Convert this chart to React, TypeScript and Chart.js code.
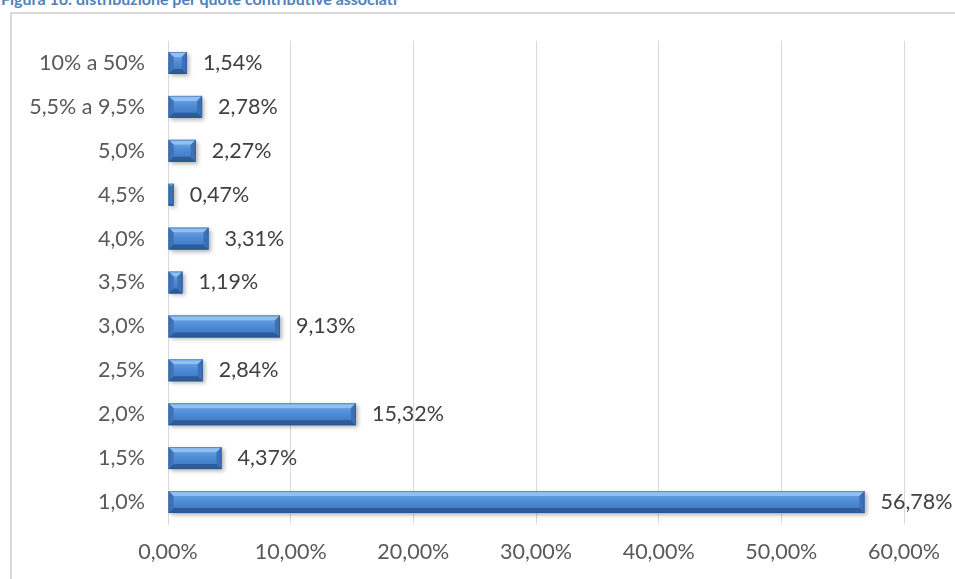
import React, { useEffect, useRef } from "react";
import { Chart, registerables } from "chart.js";

Chart.register(...registerables);

const TITLE = "Figura 16: distribuzione per quote contributive associati";
const categories = ["10% a 50%", "5,5% a 9,5%", "5,0%", "4,5%", "4,0%", "3,5%", "3,0%", "2,5%", "2,0%", "1,5%", "1,0%"];
const values = [1.54, 2.78, 2.27, 0.47, 3.31, 1.19, 9.13, 2.84, 15.32, 4.37, 56.78];
const xMin = 0;
const xMax = 60;
const xStep = 10;

const FONT = "Lato, 'Open Sans', sans-serif";
const FSIZE = 21.5;
const fmt = (v: number) => v.toFixed(2).replace(".", ",") + "%";

const bevelPlugin = {
  id: "bevelBars",
  afterDatasetsDraw(chart: any) {
    const ctx = chart.ctx as CanvasRenderingContext2D;
    const meta = chart.getDatasetMeta(0);
    meta.data.forEach((el: any, i: number) => {
      const p = el.getProps(["x", "y", "base", "height"], true);
      const x0 = Math.min(p.base, p.x);
      const x1 = Math.max(p.base, p.x);
      const y0 = p.y - p.height / 2;
      const y1 = p.y + p.height / 2;
      const w = x1 - x0;
      const h = y1 - y0;
      const b = Math.min(5, w / 2, h / 2);
      ctx.save();
      ctx.shadowColor = "rgba(0,0,0,0.3)";
      ctx.shadowBlur = 4;
      ctx.shadowOffsetX = 2;
      ctx.shadowOffsetY = 2;
      ctx.fillStyle = "#4279c2";
      ctx.fillRect(x0, y0, w, h);
      ctx.shadowColor = "transparent";
      const g = ctx.createLinearGradient(0, y0, 0, y1);
      g.addColorStop(0, "#73aaea");
      g.addColorStop(0.5, "#4d8ad6");
      g.addColorStop(1, "#3c73bd");
      ctx.fillStyle = g;
      ctx.fillRect(x0 + b, y0 + b, w - 2 * b, h - 2 * b);
      const poly = (pts: number[][], c: string) => {
        ctx.beginPath();
        ctx.moveTo(pts[0][0], pts[0][1]);
        for (let k = 1; k < pts.length; k++) ctx.lineTo(pts[k][0], pts[k][1]);
        ctx.closePath();
        ctx.fillStyle = c;
        ctx.fill();
      };
      poly([[x0, y0], [x1, y0], [x1 - b, y0 + b], [x0 + b, y0 + b]], "#8fc0f3");
      poly([[x0, y1], [x1, y1], [x1 - b, y1 - b], [x0 + b, y1 - b]], "#2d5c99");
      poly([[x0, y0], [x0 + b, y0 + b], [x0 + b, y1 - b], [x0, y1]], "#3f73b8");
      poly([[x1, y0], [x1 - b, y0 + b], [x1 - b, y1 - b], [x1, y1]], "#3d70b5");
      ctx.strokeStyle = "rgba(35,75,135,0.45)";
      ctx.lineWidth = 1;
      ctx.strokeRect(x0 + 0.5, y0 + 0.5, w - 1, h - 1);
      ctx.fillStyle = "#404040";
      ctx.font = `${FSIZE}px ${FONT}`;
      ctx.textAlign = "left";
      ctx.textBaseline = "middle";
      ctx.fillText(fmt(values[i]), x1 + 16, p.y);
      ctx.restore();
    });
  },
};

export default function App() {
  const ref = useRef<HTMLCanvasElement>(null);
  useEffect(() => {
    if (!ref.current) return;
    const chart = new Chart(ref.current, {
      type: "bar",
      data: {
        labels: categories,
        datasets: [
          {
            data: values,
            backgroundColor: "rgba(0,0,0,0)",
            borderWidth: 0,
            barPercentage: 0.5,
            categoryPercentage: 1,
          },
        ],
      },
      options: {
        indexAxis: "y",
        animation: false,
        responsive: false,
        devicePixelRatio: 1,
        layout: { padding: { left: 10, right: 50, top: 41, bottom: 0 } },
        plugins: { legend: { display: false }, tooltip: { enabled: false }, title: { display: false } },
        scales: {
          x: {
            min: xMin,
            max: xMax,
            ticks: {
              stepSize: xStep,
              padding: 15,
              color: "#595959",
              font: { family: FONT, size: FSIZE },
              callback: (v: any) => fmt(Number(v)),
            },
            grid: { color: "#d9d9d9", drawTicks: false, lineWidth: 1 },
            border: { display: false },
            afterFit: (s: any) => {
              s.height = 55;
            },
          },
          y: {
            ticks: {
              padding: 23,
              color: "#595959",
              font: { family: FONT, size: FSIZE },
            },
            grid: { display: false, drawTicks: false },
            border: { display: true, color: "#d9d9d9", width: 1 },
            afterFit: (s: any) => {
              s.width = 158;
            },
          },
        },
      } as any,
      plugins: [bevelPlugin],
    });
    return () => chart.destroy();
  }, []);

  return (
    <div style={{ position: "absolute", left: 0, top: 0, width: 955, height: 579, overflow: "hidden", background: "#fff" }}>
      <div
        style={{
          position: "absolute",
          left: 1,
          top: -9,
          fontFamily: FONT,
          fontWeight: 700,
          fontSize: 16,
          lineHeight: "16px",
          color: "#4f81bd",
          whiteSpace: "nowrap",
        }}
      >
        {TITLE}
      </div>
      <div
        style={{
          position: "absolute",
          left: 10,
          top: 12,
          width: 1000,
          height: 1000,
          borderLeft: "2px solid #d9d9d9",
          borderTop: "2px solid #d9d9d9",
        }}
      />
      <canvas ref={ref} width={955} height={579} style={{ position: "absolute", left: 0, top: 0 }} />
    </div>
  );
}
